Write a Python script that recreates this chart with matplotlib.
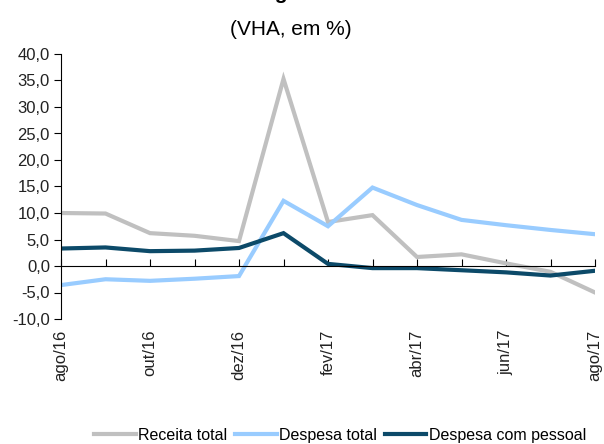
import matplotlib
matplotlib.use("Agg")
import matplotlib.pyplot as plt

plt.rcParams['font.family'] = ['Liberation Sans', 'DejaVu Sans']

# meses de ago/16 a ago/17
meses = ["ago/16", "set/16", "out/16", "nov/16", "dez/16", "jan/17", "fev/17",
         "mar/17", "abr/17", "mai/17", "jun/17", "jul/17", "ago/17"]
receita_total = [10.0, 9.9, 6.2, 5.7, 4.7, 35.3, 8.3, 9.6, 1.7, 2.2, 0.5, -1.1, -5.0]
despesa_total = [-3.6, -2.5, -2.8, -2.4, -1.9, 12.3, 7.5, 14.8, 11.5, 8.7, 7.7, 6.8, 6.0]
despesa_pessoal = [3.3, 3.5, 2.8, 2.9, 3.4, 6.2, 0.4, -0.4, -0.4, -0.8, -1.2, -1.8, -0.9]
yticks = [-10, -5, 0, 5, 10, 15, 20, 25, 30, 35, 40]

fig = plt.figure(figsize=(6.04, 4.44), dpi=100)
ax = fig.add_axes([61 / 604, 1 - 319 / 444, (595 - 61) / 604, (319 - 54) / 444])

x = list(range(len(meses)))
ax.plot(x, receita_total, color="#C0C0C0", lw=3, label="Receita total", solid_joinstyle="miter")
ax.plot(x, despesa_total, color="#99CCFF", lw=3, label="Despesa total", solid_joinstyle="miter")
ax.plot(x, despesa_pessoal, color="#0C4A69", lw=3, label="Despesa com pessoal", solid_joinstyle="miter")

ax.set_xlim(0, len(meses) - 1)
ax.set_ylim(-10, 40)
ax.set_yticks(yticks)
ax.set_yticklabels([f"{v:.1f}".replace(".", ",") for v in yticks], fontsize=12, color="#222222")
ax.tick_params(axis="y", direction="out", length=5, width=0.8, pad=3)

# eixo x sobre o zero, rótulos embaixo
for s in ["top", "right"]:
    ax.spines[s].set_visible(False)
ax.spines["bottom"].set_position(("data", 0))
ax.spines["bottom"].set_linewidth(0.8)
ax.spines["left"].set_linewidth(0.8)
ax.set_xticks(x)
ax.set_xticklabels([])
ax.tick_params(axis="x", direction="in", length=5, width=0.8)
for i in range(0, len(meses), 2):
    ax.text(i, -0.04, meses[i], transform=ax.get_xaxis_transform(), rotation=90,
            ha="center", va="top", fontsize=12, color="#222222")

fig.text(0.47, 1 + 1 / 444, "Região", ha="center", va="baseline",
         fontsize=15, fontweight="bold")
fig.text(0.481, 1 - 29.5 / 444, "(VHA, em %)", ha="center", va="center", fontsize=15)

fig.legend(loc="center", bbox_to_anchor=(0.563, 1 - 435 / 444), ncol=3, frameon=False,
           fontsize=11.5, handlelength=2.6, handletextpad=0.15, columnspacing=0.5,
           borderpad=0.2)

fig.savefig("out.png", dpi=100)
